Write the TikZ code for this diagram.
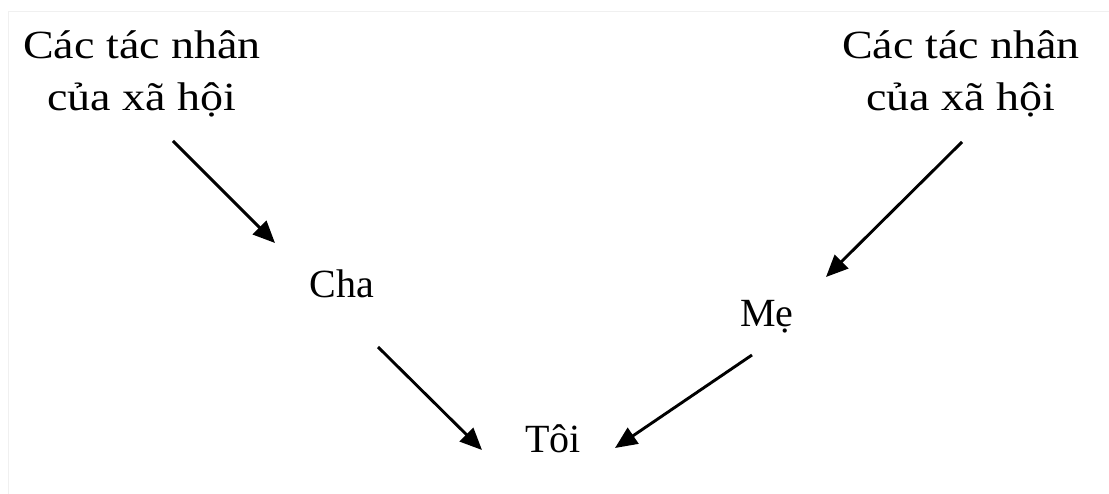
\documentclass[tikz,border=0pt]{standalone}
\usepackage{graphicx}
\usepackage{fontspec}
\setmainfont{Liberation Serif}
\usetikzlibrary{arrows.meta}
% the top labels are set a little wider than the rest
\newcommand{\hstretch}[1]{\scalebox{1.15}[1]{#1}}
\begin{document}
\begin{tikzpicture}[x=1pt,y=-1pt,
  lbl/.style={inner sep=0pt, anchor=base, align=center,
    font=\fontsize{40}{51.5}\selectfont},
  arr/.style={line width=2.9pt, -{Triangle[length=22pt,width=19pt]}}]
  \useasboundingbox (0,0) rectangle (1109,494);
  % faint page frame
  \draw[black!6, line width=1pt] (8,494) -- (8,12) -- (1109,12);
  % labels (base anchor sits on the last line's baseline)
  \node[lbl] (tl) at (142,110.5) {\hstretch{Các tác nhân}\\\hstretch{của xã hội}};
  \node[lbl] (tr) at (961,110.5) {\hstretch{Các tác nhân}\\\hstretch{của xã hội}};
  \node[lbl] (cha) at (342,298) {Cha};
  \node[lbl] (me) at (767,327) {Mẹ};
  \node[lbl] (toi) at (553,452) {Tôi};
  % influence arrows
  \draw[arr] ([shift={(31,30.5)}]tl.base) -- ([shift={(-67,-55)}]cha.base);
  \draw[arr] ([shift={(1,31.5)}]tr.base) -- ([shift={(59,-50)}]me.base);
  \draw[arr] ([shift={(36,49)}]cha.base) -- ([shift={(-71,-2)}]toi.base);
  \draw[arr] ([shift={(-15,28)}]me.base) -- ([shift={(62,-4)}]toi.base);
\end{tikzpicture}
\end{document}
